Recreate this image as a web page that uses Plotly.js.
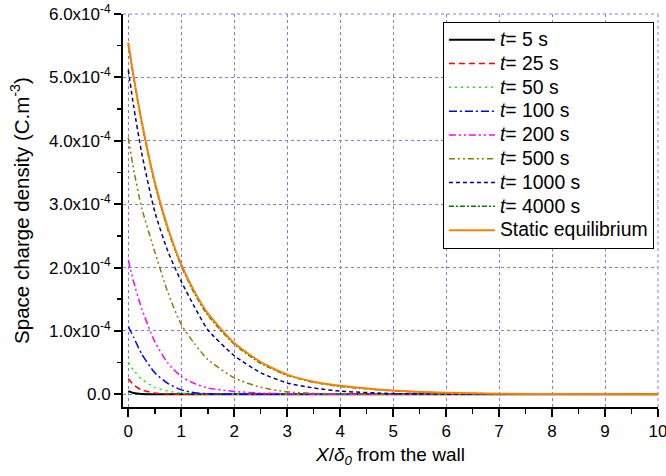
<!DOCTYPE html>
<html>
<head>
<meta charset="utf-8">
<script src="https://cdn.plot.ly/plotly-3.0.1.min.js"></script>
<style>
html,body{margin:0;padding:0;background:#fff;}
#chart{width:666px;height:476px;}
.legendtext{font-size:19.4px !important;}
</style>
</head>
<body>
<div id="chart"></div>
<script>
// x positions (X/delta0)
const xPos = [0, 0.1, 0.25, 0.5, 0.75, 1, 1.25, 1.5, 2, 2.5, 3, 3.5, 4, 5, 6, 7, 8, 10];
// Space charge density values, in units of 1e-4 C.m^-3
const t5     = [0.05, 0.02, 0.005, 0.001, 0, 0, 0, 0, 0, 0, 0, 0, 0, 0, 0, 0, 0, 0];
const t25    = [0.25, 0.15, 0.07, 0.02, 0.005, 0, 0, 0, 0, 0, 0, 0, 0, 0, 0, 0, 0, 0];
const t50    = [0.50, 0.38, 0.24, 0.11, 0.05, 0.02, 0.01, 0.003, 0, 0, 0, 0, 0, 0, 0, 0, 0, 0];
const t100   = [1.07, 0.90, 0.64, 0.34, 0.17, 0.07, 0.025, 0.01, 0.002, 0, 0, 0, 0, 0, 0, 0, 0, 0];
const t200   = [2.12, 1.78, 1.36, 0.83, 0.49, 0.28, 0.17, 0.10, 0.045, 0.02, 0.008, 0.003, 0, 0, 0, 0, 0, 0];
const t500   = [4.05, 3.55, 2.95, 2.25, 1.60, 1.10, 0.80, 0.55, 0.26, 0.11, 0.04, 0.015, 0.005, 0, 0, 0, 0, 0];
const t1000  = [5.12, 4.55, 3.82, 2.88, 2.25, 1.78, 1.38, 1.02, 0.61, 0.34, 0.18, 0.10, 0.05, 0.012, 0.003, 0, 0, 0];
const t4000  = [5.52, 4.99, 4.29, 3.32, 2.59, 2.02, 1.59, 1.25, 0.79, 0.49, 0.30, 0.19, 0.125, 0.055, 0.02, 0.008, 0.003, 0];
const tStatic= [5.55, 5.02, 4.32, 3.35, 2.62, 2.05, 1.62, 1.28, 0.81, 0.51, 0.31, 0.20, 0.135, 0.06, 0.025, 0.01, 0.004, 0];

const seriesNames = ['<i>t</i>= 5 s','<i>t</i>= 25 s','<i>t</i>= 50 s','<i>t</i>= 100 s','<i>t</i>= 200 s','<i>t</i>= 500 s','<i>t</i>= 1000 s','<i>t</i>= 4000 s','Static equilibrium'];
const seriesData = [t5, t25, t50, t100, t200, t500, t1000, t4000, tStatic];

const yTickVals = [0, 1, 2, 3, 4, 5, 6];
const yTickText = ['0.0','1.0x10<sup>-4</sup>','2.0x10<sup>-4</sup>','3.0x10<sup>-4</sup>','4.0x10<sup>-4</sup>','5.0x10<sup>-4</sup>','6.0x10<sup>-4</sup>'];
const xTickVals = [0,1,2,3,4,5,6,7,8,9,10];

const styles = [
  {color:'#000000', dash:'solid', width:2},
  {color:'#ff0000', dash:'6px,4px', width:1.5},
  {color:'#00ff00', dash:'2px,4px', width:1.5},
  {color:'#0000ff', dash:'8px,3px,2px,3px', width:1.5},
  {color:'#ff00ff', dash:'7px,3px,2px,3px,2px,3px', width:1.5},
  {color:'#808000', dash:'6px,3px,2px,3px,2px,3px', width:1.5},
  {color:'#000080', dash:'4px,3px', width:1.5},
  {color:'#008000', dash:'5px,2px,2px,2px', width:1.5},
  {color:'#ff8000', dash:'solid', width:2}
];

const traces = seriesData.map((d, i) => ({
  x: xPos,
  y: d.map(v => v * 1e-4),
  mode: 'lines',
  name: seriesNames[i],
  line: {color: styles[i].color, dash: styles[i].dash, width: styles[i].width, shape: 'spline', smoothing: 0.6}
}));

const gridColor = '#7d7de0';
const layout = {
  width: 666, height: 476,
  margin: {l: 123, r: 8, t: 14, b: 69},
  paper_bgcolor: '#fff', plot_bgcolor: '#fff',
  font: {family: 'Liberation Sans, Arial, sans-serif', size: 17, color: '#000'},
  showlegend: true,
  legend: {
    x: 0.598, y: 0.98, xanchor: 'left', yanchor: 'top',
    bgcolor: '#fff', bordercolor: '#000', borderwidth: 1,
    font: {size: 16, family: 'Liberation Sans, Arial, sans-serif'},
    itemwidth: 46,
    tracegroupgap: 0
  },
  shapes: [
    {type: 'line', xref: 'paper', yref: 'paper', x0: 1, x1: 1, y0: 0, y1: 1, line: {color: gridColor, width: 1, dash: 'dot'}, layer: 'below'},
    {type: 'line', xref: 'paper', yref: 'paper', x0: 0, x1: 1, y0: 1, y1: 1, line: {color: gridColor, width: 1, dash: 'dot'}, layer: 'below'}
  ],
  xaxis: {
    range: [-0.1, 10],
    tickvals: xTickVals, ticktext: xTickVals.map(String),
    ticks: 'outside', ticklen: 8, tickwidth: 2, tickcolor: '#000',
    ticklabeloverflow: 'allow',
    showline: true, linecolor: '#000', linewidth: 2,
    showgrid: true, gridcolor: gridColor, griddash: 'dot', gridwidth: 1,
    zeroline: false,
    minor: {ticks: 'outside', ticklen: 5, tickwidth: 1.5, tickcolor: '#000', dtick: 0.5, tick0: 0, showgrid: false},
    tickfont: {size: 17},
    title: {text: '<i>X</i>/<i>δ</i><sub><i>0</i></sub> from the wall', font: {size: 19}, standoff: 7}
  },
  yaxis: {
    range: [-0.2e-4, 6e-4],
    tickvals: yTickVals.map(v => v * 1e-4), ticktext: yTickText,
    ticks: 'outside', ticklen: 7, tickwidth: 2, tickcolor: '#000',
    showline: true, linecolor: '#000', linewidth: 2,
    showgrid: true, gridcolor: gridColor, griddash: 'dot', gridwidth: 1,
    zeroline: false,
    minor: {ticks: 'outside', ticklen: 4, tickwidth: 1.5, tickcolor: '#000', dtick: 0.5e-4, tick0: 0, showgrid: false},
    tickfont: {size: 17},
    title: {text: 'Space charge density (C.m<sup>-3</sup>)', font: {size: 20.5}, standoff: 14}
  }
};

Plotly.newPlot('chart', traces, layout, {displayModeBar: false, staticPlot: true});
</script>
</body>
</html>
